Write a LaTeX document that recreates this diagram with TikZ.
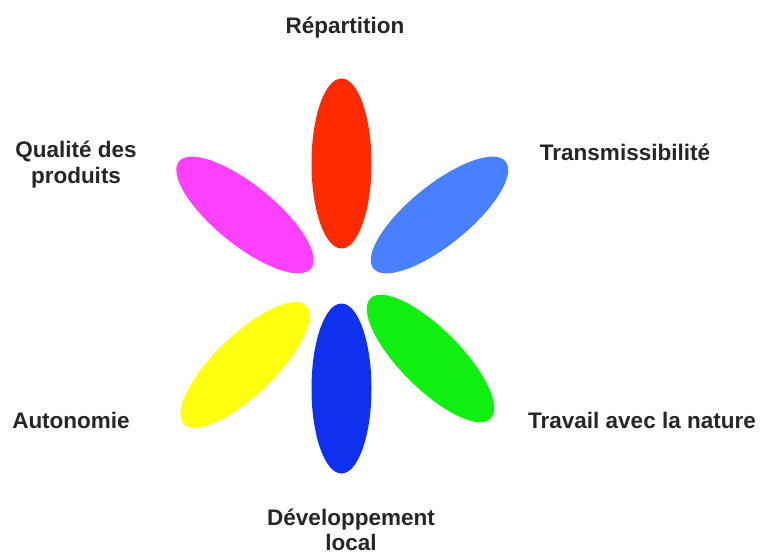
\documentclass[tikz,border=0pt]{standalone}
\usepackage{fontspec}
\setmainfont{Liberation Sans}
\usetikzlibrary{shapes.geometric}
\definecolor{petalred}{RGB}{255,42,0}
\definecolor{petalsky}{RGB}{72,128,255}
\definecolor{petalpink}{RGB}{255,64,255}
\definecolor{petalyellow}{RGB}{255,255,16}
\definecolor{petalblue}{RGB}{16,48,240}
\definecolor{petalgreen}{RGB}{16,240,16}
\tikzset{
  petal/.style={ellipse, draw=none, inner sep=0pt, minimum width=170pt, minimum height=60pt},
  lbl/.style={font=\fontsize{22.5}{26}\selectfont\bfseries, text=black!85, inner sep=0pt, align=center}
}
\begin{document}
\begin{tikzpicture}[x=1pt,y=-1pt]
  \useasboundingbox (0,0) rectangle (761,555);
  % petals
  \node[petal, fill=petalred, rotate=90] (repartition) at (341.5,163.5) {};
  \node[petal, fill=petalsky, rotate=39] (transmission) at (439.5,215) {};
  \node[petal, fill=petalpink, rotate=-39] (qualite) at (245,215) {};
  \node[petal, fill=petalyellow, rotate=44] (autonomie) at (245,365) {};
  \node[petal, fill=petalblue, rotate=90] (developpement) at (341.5,388.5) {};
  \node[petal, fill=petalgreen, rotate=-45] (nature) at (430.5,358.5) {};
  % labels (base = last line)
  \node[lbl, anchor=base] (lrepartition) at (345,33) {Répartition};
  \node[lbl, anchor=base] (ltransmission) at (625,160) {Transmissibilité};
  \node[lbl, anchor=base] (lqualite) at (76,183) {Qualité des\\produits};
  \node[lbl, anchor=base] (lautonomie) at (71,428) {Autonomie};
  \node[lbl, anchor=base] (lnature) at (642,428) {Travail avec la nature};
  \node[lbl, anchor=base, font=\fontsize{22.5}{25}\selectfont\bfseries] (ldeveloppement) at (351,550) {Développement\\local};
\end{tikzpicture}
\end{document}
